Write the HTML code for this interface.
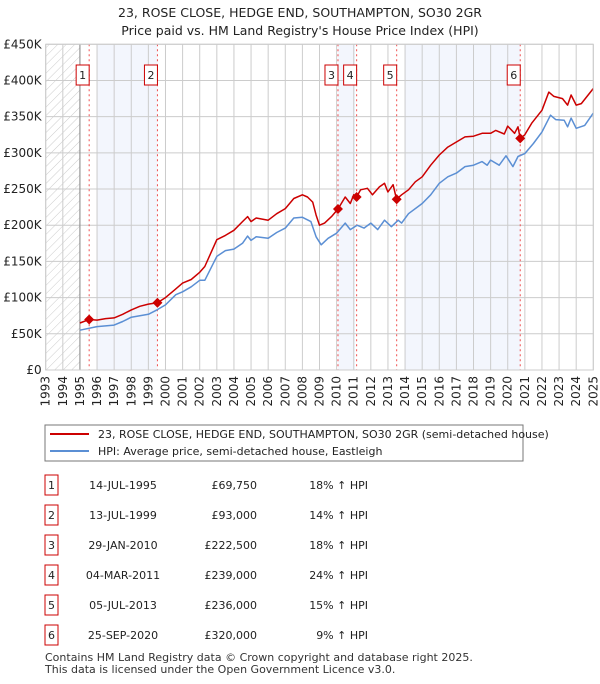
<!DOCTYPE html>
<html><head><meta charset="utf-8"><style>
body{margin:0;background:#fff;font-family:"DejaVu Sans","Liberation Sans",sans-serif;}
svg text{font-family:"DejaVu Sans","Liberation Sans",sans-serif;}
</style></head><body>
<svg id="c" width="600" height="680" xmlns="http://www.w3.org/2000/svg">
<defs><pattern id="hatch" width="6" height="6" patternUnits="userSpaceOnUse" patternTransform="rotate(45)"><line x1="0" y1="0" x2="0" y2="6" stroke="#ccc" stroke-width="1"/></pattern></defs>
<text x="300" y="17" text-anchor="middle" font-size="12.5" fill="#222">23, ROSE CLOSE, HEDGE END, SOUTHAMPTON, SO30 2GR</text>
<text x="300" y="35" text-anchor="middle" font-size="12.5" fill="#222">Price paid vs. HM Land Registry's House Price Index (HPI)</text>
<g id="plot"></g>
<rect x="45" y="425" width="478" height="36" fill="#fff" stroke="#777"/>
<line x1="50" y1="434" x2="89" y2="434" stroke="#cc0000" stroke-width="2"/>
<text x="98" y="438" font-size="11" fill="#222">23, ROSE CLOSE, HEDGE END, SOUTHAMPTON, SO30 2GR (semi-detached house)</text>
<line x1="50" y1="451" x2="89" y2="451" stroke="#5b8fd4" stroke-width="2"/>
<text x="98" y="455" font-size="11" fill="#222">HPI: Average price, semi-detached house, Eastleigh</text>
<g id="tbl"></g>
<text x="45" y="661" font-size="11" fill="#333">Contains HM Land Registry data © Crown copyright and database right 2025.</text>
<text x="45" y="673" font-size="11" fill="#333">This data is licensed under the Open Government Licence v3.0.</text>
</svg>
<script>
const yTicks=[0,50,100,150,200,250,300,350,400,450];
const yTickLabels=["£0","£50K","£100K","£150K","£200K","£250K","£300K","£350K","£400K","£450K"];
const xYears=[1993,1994,1995,1996,1997,1998,1999,2000,2001,2002,2003,2004,2005,2006,2007,2008,2009,2010,2011,2012,2013,2014,2015,2016,2017,2018,2019,2020,2021,2022,2023,2024,2025];
const redT=[1995.0,1995.54,1996.0,1996.5,1997.0,1997.5,1998.0,1998.5,1999.0,1999.53,2000.0,2000.5,2001.0,2001.5,2002.0,2002.3,2003.0,2003.5,2004.0,2004.5,2004.8,2005.0,2005.3,2006.0,2006.5,2007.0,2007.5,2008.0,2008.3,2008.6,2008.8,2009.0,2009.3,2009.7,2010.08,2010.5,2010.8,2011.0,2011.17,2011.4,2011.8,2012.1,2012.5,2012.8,2013.0,2013.3,2013.5,2013.8,2014.2,2014.6,2015.0,2015.5,2016.0,2016.5,2017.0,2017.5,2018.0,2018.5,2019.0,2019.3,2019.8,2020.0,2020.4,2020.6,2020.73,2021.0,2021.4,2022.0,2022.4,2022.7,2023.2,2023.5,2023.7,2024.0,2024.3,2025.0];
const redV=[65,69.75,69,71,72,77,83,88,91,93,100,110,120,125,135,143,180,186,193,205,212,205,210,207,216,223,237,242,239,232,214,200,203,212,222.5,239,230,242,239,249,251,242,253,258,246,256,236,242,249,260,267,283,297,308,315,322,323,327,327,331,326,337,327,336,320,325,341,359,384,378,375,366,380,366,368,389];
const blueT=[1995.0,1996.0,1997.0,1997.5,1998.0,1999.0,1999.5,2000.0,2000.6,2001.0,2001.5,2002.0,2002.3,2003.0,2003.5,2004.0,2004.5,2004.8,2005.0,2005.3,2006.0,2006.5,2007.0,2007.5,2008.0,2008.5,2008.8,2009.1,2009.5,2010.0,2010.5,2010.8,2011.2,2011.6,2012.0,2012.4,2012.8,2013.2,2013.6,2013.8,2014.2,2015.0,2015.5,2016.0,2016.5,2017.0,2017.5,2018.0,2018.5,2018.8,2019.0,2019.5,2019.9,2020.3,2020.6,2021.0,2021.5,2022.0,2022.5,2022.8,2023.3,2023.5,2023.7,2024.0,2024.5,2025.0];
const blueV=[55,60,62,67,73,77,83,90,104,108,115,124,124,157,165,167,175,185,179,184,182,190,196,210,211,205,184,173,182,189,203,194,200,196,203,194,207,198,207,203,216,230,242,258,267,272,281,283,288,283,290,283,296,281,295,299,313,329,352,346,345,336,348,334,338,355];
const saleT=[1995.54,1999.53,2010.08,2011.17,2013.51,2020.73];
const saleV=[69.75,93,222.5,239,236,320];
const saleLabels=["1","2","3","4","5","6"];
const saleDates=["14-JUL-1995","13-JUL-1999","29-JAN-2010","04-MAR-2011","05-JUL-2013","25-SEP-2020"];
const salePrices=["£69,750","£93,000","£222,500","£239,000","£236,000","£320,000"];
const saleHpi=["18% ↑ HPI","14% ↑ HPI","18% ↑ HPI","24% ↑ HPI","15% ↑ HPI","9% ↑ HPI"];
const bands=[[1996.0,1999.53],[2010.08,2011.08],[2014.0,2020.73]];

const NS="http://www.w3.org/2000/svg";
const X0=45.7,X1=593.3,Y0=370,Y1=44.3;
const xs=t=>X0+(t-1993)/(2025-1993)*(X1-X0);
const ys=v=>Y0-v/450*(Y0-Y1);
const plot=document.getElementById('plot');
function mk(tag,attrs,parent){const e=document.createElementNS(NS,tag);for(const k in attrs)e.setAttribute(k,attrs[k]);(parent||plot).appendChild(e);return e;}
let e;
e=mk('rect',{x:X0,y:Y1,width:X1-X0,height:Y0-Y1,fill:'#fff'});


bands.forEach(b=>{e=mk('rect',{x:xs(b[0]),y:Y1,width:xs(b[1])-xs(b[0]),height:Y0-Y1,fill:'#f3f6fd'});

});
e=mk('rect',{x:X0,y:Y1,width:xs(1995)-X0,height:Y0-Y1,fill:'url(#hatch)'});


yTicks.forEach((v,i)=>{e=mk('line',{x1:X0,x2:X1,y1:ys(v),y2:ys(v),stroke:'#ccc','stroke-width':1});


e=mk('text',{x:X0-4,y:ys(v)+4,'text-anchor':'end','font-size':12,fill:'#222'});
e.textContent=yTickLabels[i];

});
xYears.forEach(yr=>{e=mk('line',{x1:xs(yr),x2:xs(yr),y1:Y1,y2:Y0,stroke:'#ccc','stroke-width':1});


e=mk('text',{x:0,y:0,'text-anchor':'end','font-size':12,fill:'#222',transform:`translate(${xs(yr)+4},${Y0+6}) rotate(-90)`});
e.textContent=yr;

});
e=mk('line',{x1:xs(1995),x2:xs(1995),y1:Y1,y2:Y0,stroke:'#888','stroke-width':1});


saleT.forEach((t,i)=>{e=mk('line',{x1:xs(t),x2:xs(t),y1:Y1,y2:Y0,stroke:'#f05050','stroke-width':1,'stroke-dasharray':'2,3'});

});
function path(T,V,col,name){const d=T.map((t,i)=>(i?'L':'M')+xs(t).toFixed(1)+','+ys(V[i]).toFixed(1)).join('');
e=mk('path',{d:d,fill:'none',stroke:col,'stroke-width':1.5,'stroke-linejoin':'round'});

}
path(blueT,blueV,'#5b8fd4','hpi-line');
path(redT,redV,'#cc0000','property-price-line');
saleT.forEach((t,i)=>{const cx=xs(t),cy=ys(saleV[i]);
e=mk('path',{d:`M${cx},${cy-5}L${cx+5},${cy}L${cx},${cy+5}L${cx-5},${cy}Z`,fill:'#cc0000'});


const bx=cx-10;
e=mk('rect',{x:bx-3,y:65,width:13,height:20,fill:'#fff',stroke:'#cc0000','stroke-width':1});


e=mk('text',{x:bx+3.5,y:79,'text-anchor':'middle','font-size':11,fill:'#222'});
e.textContent=saleLabels[i];

});
e=mk('rect',{x:X0,y:Y1,width:X1-X0,height:Y0-Y1,fill:'none',stroke:'#ccc'});


const tbl=document.getElementById('tbl');
const rowY=[485,515,545,575,605,635];
saleLabels.forEach((l,i)=>{const y=rowY[i];
e=mk('rect',{x:45,y:y-10,width:13,height:20,fill:'#fff',stroke:'#cc0000'},tbl);


e=mk('text',{x:51.5,y:y+4,'text-anchor':'middle','font-size':11,fill:'#222'},tbl);
e.textContent=l;


e=mk('text',{x:123,y:y+4,'text-anchor':'middle','font-size':11,fill:'#222'},tbl);
e.textContent=saleDates[i];


e=mk('text',{x:257,y:y+4,'text-anchor':'end','font-size':11,fill:'#222'},tbl);
e.textContent=salePrices[i];


e=mk('text',{x:368,y:y+4,'text-anchor':'end','font-size':11,fill:'#222'},tbl);
e.textContent=saleHpi[i];

});
</script>
</body></html>
